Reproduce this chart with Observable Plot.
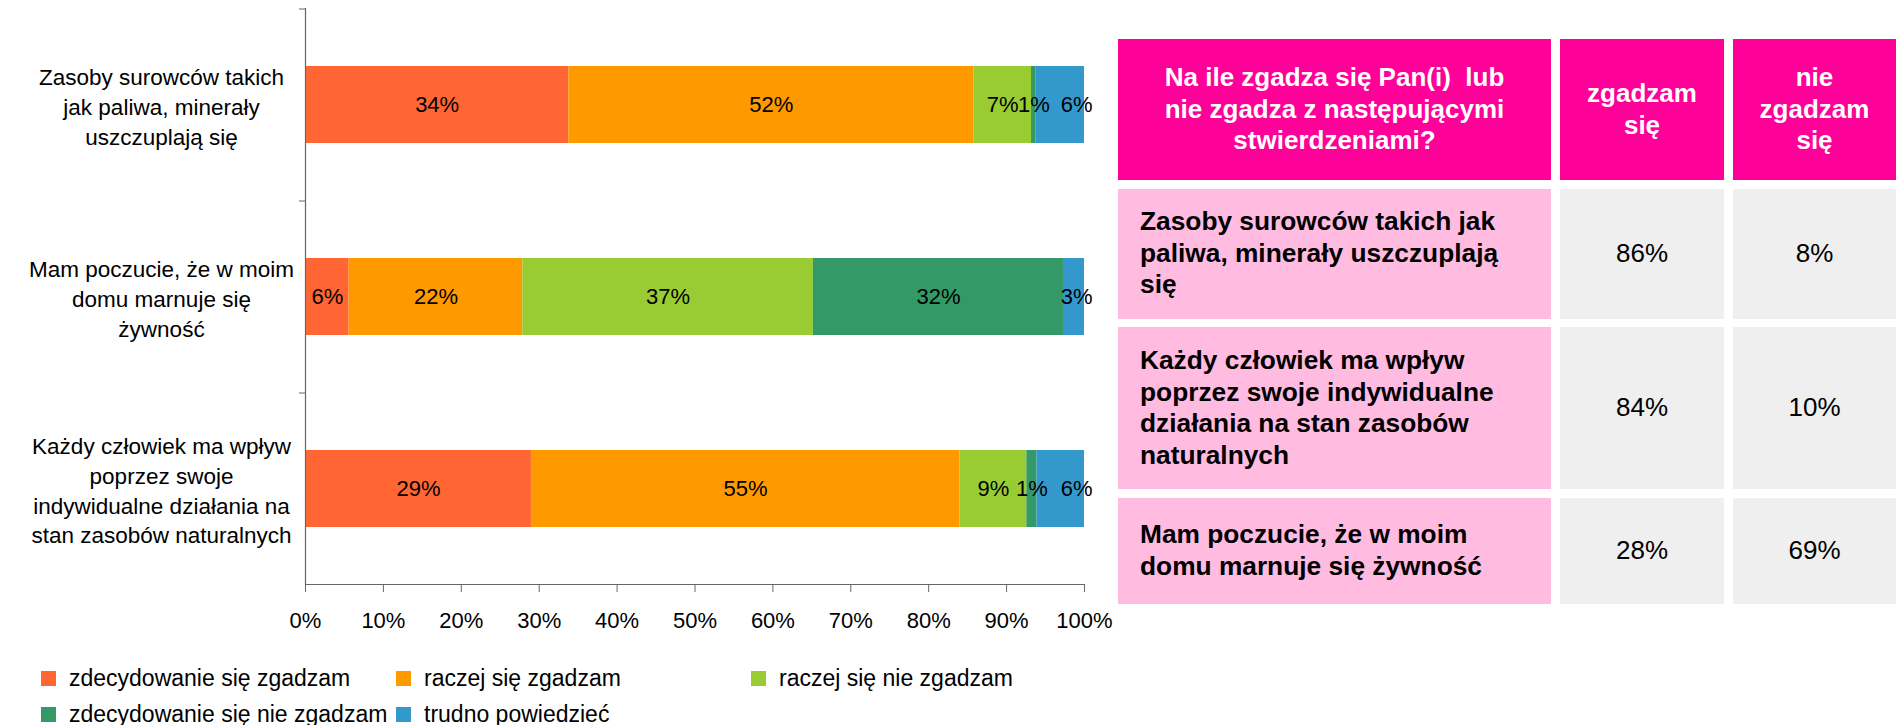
<!DOCTYPE html>
<html>
<head>
<meta charset="utf-8">
<script src="https://cdn.jsdelivr.net/npm/d3@7"></script>
<script src="https://cdn.jsdelivr.net/npm/@observablehq/plot@0.6"></script>
<style>
  html, body { margin: 0; padding: 0; background: #fff; overflow: hidden; }
  body { width: 1896px; height: 725px; position: relative; font-family: "Liberation Sans", Arial, sans-serif; }
  #chart { position: absolute; left: 0; top: 0; }
  #legend { position: absolute; left: 41px; top: 660px; width: 1070px; display: flex; flex-wrap: wrap; }
  .li { width: 355px; height: 36px; display: flex; align-items: center; font-size: 23px; color: #000; white-space: nowrap; }
  .sw { width: 15px; height: 15px; margin-right: 13px; flex: none; }
  #table { position: absolute; left: 1118px; top: 39px; display: grid;
    grid-template-columns: 433px 164px 163px; column-gap: 9px; row-gap: 8.5px;
    grid-template-rows: 141px 130px 162px 106px; }
  .cell { display: flex; align-items: center; font-size: 26px; line-height: 31.5px; white-space: pre; }
  .hd { background: #FF0099; color: #fff; font-weight: bold; justify-content: center; text-align: center; }
  .st { background: #FFBBE0; color: #000; font-weight: bold; padding-left: 22px; font-size: 26.3px; }
  .vl { background: #EFEFEF; color: #000; justify-content: center; }
</style>
</head>
<body>
<div id="chart"></div>
<div id="legend"></div>
<div id="table"></div>
<script>
// ---- Data ----
const categories = [
  "Zasoby surowców takich jak paliwa, minerały uszczuplają się",
  "Mam poczucie, że w moim domu marnuje się żywność",
  "Każdy człowiek ma wpływ poprzez swoje indywidualne działania na stan zasobów naturalnych"
];
const categoryLabels = [
  "Zasoby surowców takich\njak paliwa, minerały\nuszczuplają się",
  "Mam poczucie, że w moim\ndomu marnuje się\nżywność",
  "Każdy człowiek ma wpływ\npoprzez swoje\nindywidualne działania na\nstan zasobów naturalnych"
];
const series = [
  "zdecydowanie się zgadzam",
  "raczej się zgadzam",
  "raczej się nie zgadzam",
  "zdecydowanie się nie zgadzam",
  "trudno powiedzieć"
];
const seriesColors = ["#FF6633", "#FF9900", "#99CC33", "#339966", "#3399CC"];
const zasobyValues = [33.8, 52.0, 7.4, 0.6, 6.2];
const mamValues = [5.6, 22.3, 37.3, 32.1, 2.7];
const kazdyValues = [29.0, 55.0, 8.6, 1.3, 6.1];
const xTicks = [0, 10, 20, 30, 40, 50, 60, 70, 80, 90, 100];

const tableHeader = [
  "Na ile zgadza się Pan(i)  lub\nnie zgadza z następującymi\nstwierdzeniami?",
  "zgadzam\nsię",
  "nie\nzgadzam\nsię"
];
const tableStatements = [
  "Zasoby surowców takich jak\npaliwa, minerały uszczuplają\nsię",
  "Każdy człowiek ma wpływ\npoprzez swoje indywidualne\ndziałania na stan zasobów\nnaturalnych",
  "Mam poczucie, że w moim\ndomu marnuje się żywność"
];
const tableAgree = [86, 84, 28];
const tableDisagree = [8, 10, 69];

// ---- Build table rows for the chart ----
const valueRows = [zasobyValues, mamValues, kazdyValues];
const data = [];
categories.forEach((c, i) => {
  series.forEach((s, j) => data.push({category: c, series: s, value: valueRows[i][j]}));
});
const lastSeries = series[series.length - 1];
const pct = d => Math.round(d.value) + "%";

const W = 1130, H = 640, mt = 8, mb = 56, ml = 305, mr = 46;
const halfStep = (H - mt - mb) / categories.length / 2;
const labelOf = d => categoryLabels[categories.indexOf(d)];

const chart = Plot.plot({
  width: W, height: H,
  marginTop: mt, marginBottom: mb, marginLeft: ml, marginRight: mr,
  style: {fontFamily: "'Liberation Sans', Arial, sans-serif", fontSize: "22px", color: "#000", background: "transparent"},
  x: {domain: [0, 100], label: null},
  y: {domain: categories, paddingInner: 0.6, paddingOuter: 0.3, label: null},
  color: {domain: series, range: seriesColors},
  marks: [
    Plot.barX(data, Plot.stackX({x: "value", y: "category", z: "series", fill: "series"})),
    // centred labels for all but the last series
    Plot.text(data, Plot.stackX({x: "value", y: "category", z: "series",
      text: d => d.series === lastSeries ? "" : pct(d), fill: "#000", fontSize: 22})),
    // last series: labels right-aligned at the end of the bar
    Plot.text(data, Plot.stackX2({x: "value", y: "category", z: "series",
      text: d => d.series === lastSeries ? pct(d) : "", textAnchor: "end", dx: 8, fill: "#000", fontSize: 22})),
    Plot.ruleX([0], {stroke: "#666", strokeWidth: 1.2}),
    Plot.frame({anchor: "bottom", stroke: "#666", strokeWidth: 1.2}),
    Plot.axisX({ticks: xTicks, tickFormat: d => d + "%", tickSize: 8, tickPadding: 20,
      stroke: "#666", fill: "#000", fontSize: 22, label: null}),
    Plot.axisY({tickSize: 6, text: null, dy: -halfStep, stroke: "#666", label: null}),
    Plot.axisY({tickSize: 0, tickPadding: 144, textAnchor: "middle", tickFormat: labelOf,
      lineHeight: 1.33, fontSize: 22.5, fill: "#000", label: null})
  ]
});
document.getElementById("chart").appendChild(chart);

// ---- Legend ----
const legend = d3.select("#legend");
series.forEach((s, i) => {
  const item = legend.append("div").attr("class", "li");
  item.append("div").attr("class", "sw").style("background", seriesColors[i]);
  item.append("span").text(s);
});

// ---- Table ----
const table = d3.select("#table");
tableHeader.forEach(h => table.append("div").attr("class", "cell hd").text(h));
tableStatements.forEach((s, i) => {
  table.append("div").attr("class", "cell st").text(s);
  table.append("div").attr("class", "cell vl").text(tableAgree[i] + "%");
  table.append("div").attr("class", "cell vl").text(tableDisagree[i] + "%");
});
</script>
</body>
</html>
